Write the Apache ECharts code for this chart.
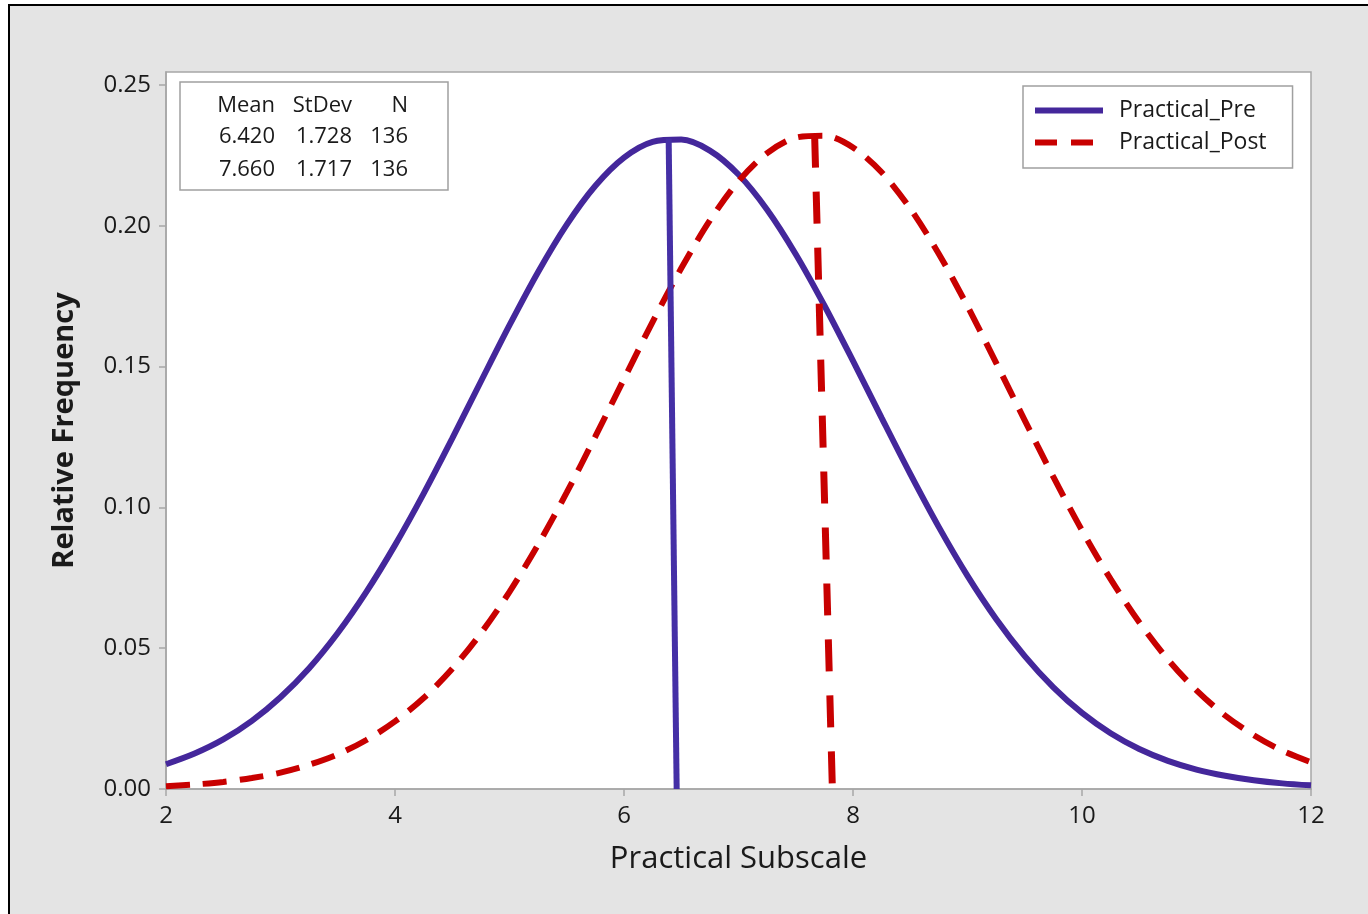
<!DOCTYPE html>
<html>
<head>
<meta charset="utf-8">
<script src="https://cdn.jsdelivr.net/npm/echarts@6/dist/echarts.min.js"></script>
<style>
  html, body { margin: 0; padding: 0; background: #fff; }
  #chart { width: 1368px; height: 914px; }
</style>
</head>
<body>
<div id="chart"></div>
<script>
// Minitab-style fitted normal curves, Practical subscale pre vs post

var xTicks = [2, 4, 6, 8, 10, 12];
var yTicks = [0, 0.05, 0.10, 0.15, 0.20, 0.25];

var xs = [2.00, 2.25, 2.50, 2.75, 3.00, 3.25, 3.50, 3.75, 4.00, 4.25, 4.50, 4.75, 5.00, 5.25,
  5.50, 5.75, 6.00, 6.25, 6.50, 6.75, 7.00, 7.25, 7.50, 7.75, 8.00, 8.25, 8.50, 8.75,
  9.00, 9.25, 9.50, 9.75, 10.00, 10.25, 10.50, 10.75, 11.00, 11.25, 11.50, 11.75, 12.00];

var preValues = [0.0088, 0.0126, 0.0176, 0.0242, 0.0326, 0.0429, 0.0554, 0.0700, 0.0866, 0.1049,
  0.1245, 0.1447, 0.1647, 0.1836, 0.2004, 0.2142, 0.2242, 0.2298, 0.2306, 0.2267,
  0.2182, 0.2057, 0.1899, 0.1717, 0.1520, 0.1318, 0.1119, 0.0930, 0.0757, 0.0604,
  0.0472, 0.0361, 0.0270, 0.0198, 0.0142, 0.0100, 0.0069, 0.0047, 0.0031, 0.0020, 0.0013];

var postValues = [0.0010, 0.0016, 0.0025, 0.0039, 0.0058, 0.0086, 0.0123, 0.0174, 0.0240, 0.0323,
  0.0427, 0.0553, 0.0700, 0.0868, 0.1053, 0.1252, 0.1456, 0.1659, 0.1849, 0.2019,
  0.2158, 0.2258, 0.2313, 0.2320, 0.2278, 0.2190, 0.2061, 0.1900, 0.1714, 0.1513,
  0.1309, 0.1108, 0.0918, 0.0745, 0.0592, 0.0460, 0.0350, 0.0261, 0.0191, 0.0136, 0.0095];

// mean reference lines (drawn slightly slanted in the original)
var preMeanLine = [[6.39, 0.2310], [6.46, 0]];
var postMeanLine = [[7.665, 0.2320], [7.82, 0]];

var statsHeader = ['Mean', 'StDev', 'N'];
var statsRows = [['6.420', '1.728', '136'], ['7.660', '1.717', '136']];

var seriesNames = ['Practical_Pre', 'Practical_Post'];

var BLUE = '#44279b';
var RED = '#c80000';
var FONT = '"Open Sans", "Noto Sans", sans-serif';

function pairs(v) {
  return xs.map(function (x, i) { return [x, v[i]]; });
}

// stats box text, right aligned columns
var colRight = [275, 352, 408];
var rowY = [106, 137, 170];
var statsText = [];
[statsHeader].concat(statsRows).forEach(function (row, r) {
  row.forEach(function (t, c) {
    statsText.push({
      type: 'text', z: 10,
      x: colRight[c], y: rowY[r],
      style: { text: t, align: 'right', verticalAlign: 'middle', font: '22px ' + FONT, fill: '#1a1a1a' }
    });
  });
});

var chart = echarts.init(document.getElementById('chart'));

chart.setOption({
  animation: false,
  textStyle: { fontFamily: FONT },
  graphic: [
    {
      type: 'rect', z: -10,
      shape: { x: 9, y: 5, width: 1380, height: 930 },
      style: { fill: '#e4e4e4', stroke: '#000', lineWidth: 2 }
    },
    {
      type: 'rect', z: 9,
      shape: { x: 180, y: 82, width: 268, height: 108 },
      style: { fill: '#fff', stroke: '#a0a0a0', lineWidth: 1.5 }
    }
  ].concat(statsText),
  grid: {
    left: 166, right: 57, top: 72, bottom: 125,
    show: true, backgroundColor: '#fff', borderColor: '#a6a6a6', borderWidth: 1.5
  },
  legend: {
    left: 1023, top: 86,
    orient: 'vertical',
    data: seriesNames.map(function (n, i) {
      return {
        name: n,
        itemStyle: { opacity: 0 },
        lineStyle: { width: 6, color: i ? RED : BLUE, type: i ? [22, 14] : 'solid' }
      };
    }),
    itemWidth: 68, itemHeight: 20, itemGap: 9,
    padding: [13, 26, 14, 9],
    backgroundColor: '#fff', borderColor: '#a0a0a0', borderWidth: 1.5, borderRadius: 0,
    textStyle: { fontSize: 23, color: '#1a1a1a', fontFamily: FONT, padding: [0, 0, 0, 11] }
  },
  xAxis: {
    type: 'value', min: 2, max: 12, interval: 2,
    name: 'Practical Subscale', nameLocation: 'middle', nameGap: 55,
    nameTextStyle: { fontSize: 31, color: '#1a1a1a', fontFamily: FONT },
    axisLine: { show: true, lineStyle: { color: '#a6a6a6', width: 1.5 } },
    axisTick: { show: true, length: 7, lineStyle: { color: '#a6a6a6', width: 1.5 } },
    axisLabel: { fontSize: 24, color: '#1a1a1a', margin: 15 },
    splitLine: { show: false }
  },
  yAxis: {
    type: 'value', min: 0, max: 0.2546,
    name: 'Relative Frequency', nameLocation: 'middle', nameGap: 87,
    nameTextStyle: { fontSize: 29, fontWeight: 'bold', color: '#1a1a1a', fontFamily: FONT },
    axisLine: { show: true, lineStyle: { color: '#a6a6a6', width: 1.5 } },
    axisTick: { show: true, length: 7, customValues: yTicks, lineStyle: { color: '#a6a6a6', width: 1.5 } },
    axisLabel: {
      fontSize: 24, color: '#1a1a1a', margin: 15, customValues: yTicks,
      formatter: function (v) { return v.toFixed(2); }
    },
    splitLine: { show: false }
  },
  series: [
    {
      name: seriesNames[0], type: 'line', smooth: 0.3, symbol: 'none',
      data: pairs(preValues),
      lineStyle: { color: BLUE, width: 6 }, itemStyle: { color: BLUE }
    },
    {
      name: seriesNames[1], type: 'line', smooth: 0.3, symbol: 'none',
      data: pairs(postValues),
      lineStyle: { color: RED, width: 6, type: [24, 13] }, itemStyle: { color: RED }
    },
    {
      name: 'preMean', type: 'line', symbol: 'none',
      data: preMeanLine,
      lineStyle: { color: '#4530a6', width: 6 }
    },
    {
      name: 'postMean', type: 'line', symbol: 'none',
      data: postMeanLine,
      lineStyle: { color: RED, width: 7, type: [32, 24] }
    }
  ]
});
</script>
</body>
</html>
